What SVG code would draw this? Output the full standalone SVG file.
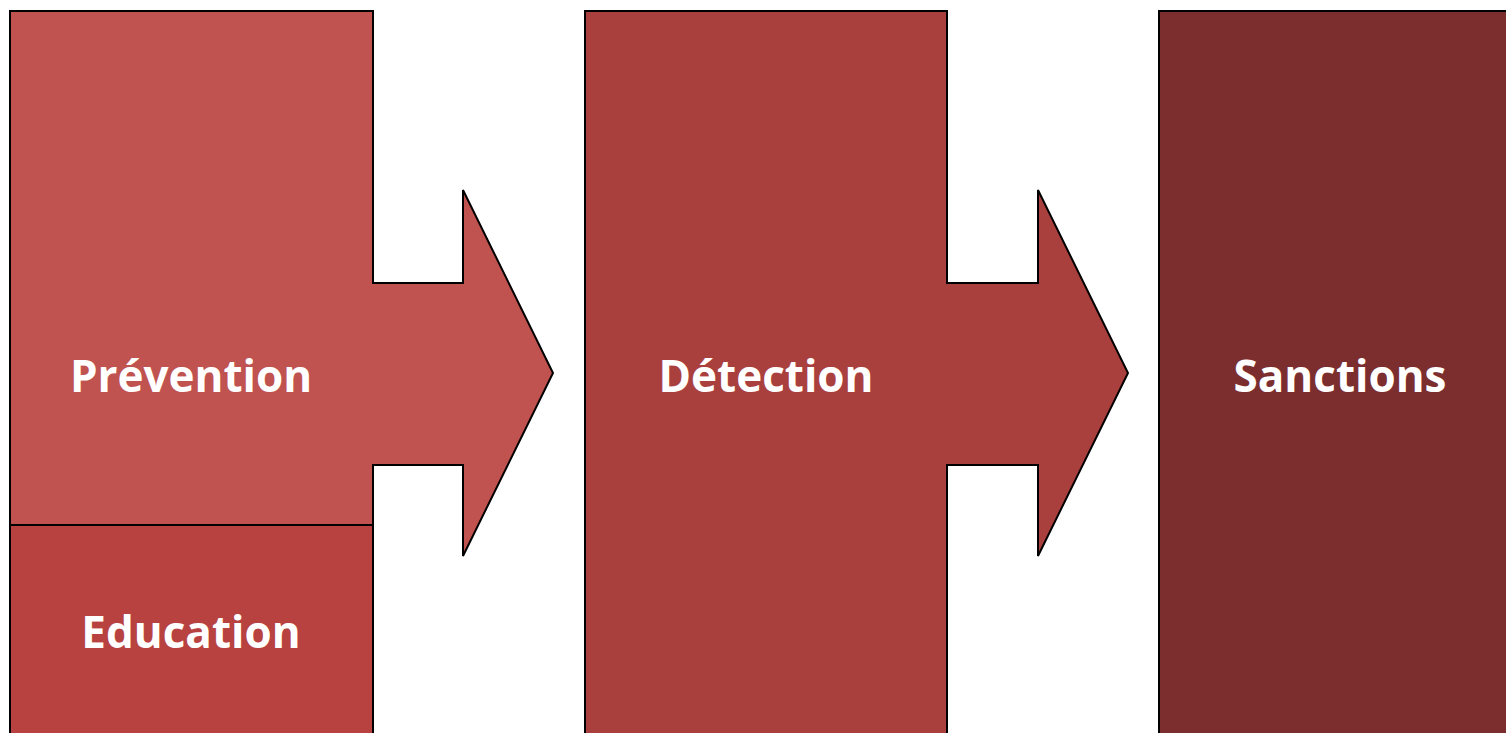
<svg xmlns="http://www.w3.org/2000/svg" width="1506" height="733" viewBox="0 0 1506 733">
<style>
.shape{stroke:#000;stroke-width:2;stroke-linejoin:miter}
.lbl{font-family:"Open Sans","Liberation Sans",sans-serif;font-weight:bold;font-size:44px;fill:#fff;text-anchor:middle}
</style>
<rect width="1506" height="733" fill="#fff"/>
<g id="prevention">
<path class="shape" fill="#C0524F" d="M10,745 V11 H373 V283 H463 V190 L553,373 L463,556 V465 H373 V745"/>
<text class="lbl" x="191" y="392">Prévention</text>
</g>
<g id="education">
<rect class="shape" fill="#B84240" x="10" y="525" width="363" height="220"/>
<text class="lbl" x="191" y="648">Education</text>
</g>
<g id="detection">
<path class="shape" fill="#AA403E" d="M585,745 V11 H947 V283 H1038 V190 L1128,373 L1038,556 V465 H947 V745"/>
<text class="lbl" x="766" y="392">Détection</text>
</g>
<g id="sanctions">
<rect class="shape" fill="#7C2E2F" x="1159" y="11" width="400" height="740"/>
<text class="lbl" x="1340" y="392">Sanctions</text>
</g>
<g id="connectors"/>
</svg>
